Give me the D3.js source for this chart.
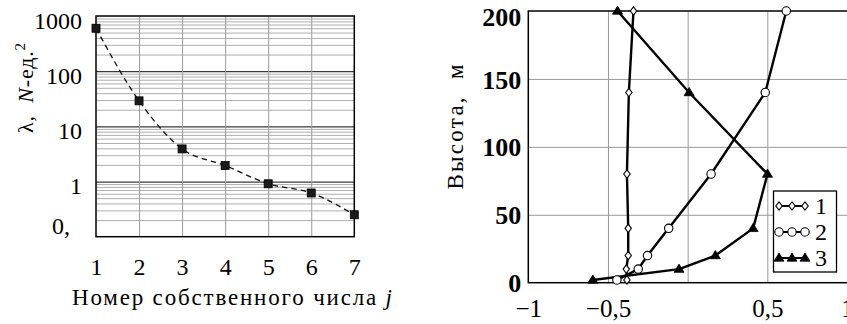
<!DOCTYPE html>
<html><head><meta charset="utf-8">
<script src="https://cdn.jsdelivr.net/npm/d3@7"></script>
<style>
html,body{margin:0;padding:0;background:#fff;}
svg{display:block;}
svg text{font-family:"Liberation Serif","DejaVu Serif",serif !important;white-space:pre;}
</style></head>
<body>
<svg id="chart" width="847" height="324"></svg>
<script>
// ---------- data: left chart ----------
const jValues = [1, 2, 3, 4, 5, 6, 7];
const lambdaValues = [600, 29, 3.9, 1.95, 0.91, 0.62, 0.25];
const leftYTicks = [1000, 100, 10, 1, 0.1];
const leftYTickLabels = ["1000", "100", "10", "1", "0,"];

// ---------- data: right chart ----------
const heights = [2, 10, 20, 40, 80, 140, 200];
const series1 = [-0.381, -0.385, -0.373, -0.373, -0.381, -0.369, -0.34];
const series2 = [-0.444, -0.31, -0.252, -0.119, 0.147, 0.487, 0.619];
const series3 = [-0.595, -0.054, 0.174, 0.411, 0.501, 0.009, -0.44];
const seriesNames = ["1", "2", "3"];
const rightXTicks = [-1, -0.5, 0.5, 1];
const rightXTickLabels = ["\u22121", "\u22120,5", "0,5", "1"];
const rightYTicks = [0, 50, 100, 150, 200];

const svg = d3.select("#chart");

// ================= LEFT CHART =================
const L = {x0: 96, x1: 354.3, y0: 16, y1: 236.7};
const xL = d3.scaleLinear().domain([1, 7]).range([L.x0, L.x1]);
const yL = d3.scaleLog().domain([0.1, 1000]).range([L.y1, L.y0]);

const gL = svg.append("g");

const minorVals = [];
for (let e = -1; e < 3; e++) for (let k = 2; k <= 9; k++) minorVals.push(k * Math.pow(10, e));
gL.append("g")
  .attr("transform", `translate(${L.x0},0)`)
  .call(d3.axisLeft(yL).tickValues(minorVals).tickSize(-(L.x1 - L.x0)).tickFormat(""))
  .call(g => g.select(".domain").remove())
  .call(g => g.selectAll("line").attr("stroke", "#9a9a9a").attr("stroke-width", 0.8));
gL.append("g")
  .attr("transform", `translate(${L.x0},0)`)
  .call(d3.axisLeft(yL).tickValues([1, 10, 100]).tickSize(-(L.x1 - L.x0)).tickFormat(""))
  .call(g => g.select(".domain").remove())
  .call(g => g.selectAll("line").attr("stroke", "#3a3a3a").attr("stroke-width", 1.2));
gL.append("g")
  .attr("transform", `translate(0,${L.y1})`)
  .call(d3.axisBottom(xL).tickValues([2, 3, 4, 5, 6]).tickSize(-(L.y1 - L.y0)).tickFormat(""))
  .call(g => g.select(".domain").remove())
  .call(g => g.selectAll("line").attr("stroke", "#9a9a9a").attr("stroke-width", 1));
gL.append("rect").attr("x", L.x0).attr("y", L.y0)
  .attr("width", L.x1 - L.x0).attr("height", L.y1 - L.y0)
  .attr("fill", "none").attr("stroke", "#000").attr("stroke-width", 1.5);

gL.append("g")
  .attr("transform", `translate(${L.x0},0)`)
  .call(d3.axisLeft(yL).tickValues(leftYTicks).tickSize(0).tickPadding(14)
        .tickFormat((d, i) => leftYTickLabels[i]))
  .call(g => g.select(".domain").remove())
  .call(g => g.selectAll("text").attr("font-size", 24).attr("fill", "#000")
        .attr("dx", (d, i) => i === leftYTicks.length - 1 ? "-0.5em" : "0")
        .attr("dy", (d, i) => i === leftYTicks.length - 1 ? "-0.15em" : "0.5em"));
gL.append("g")
  .attr("transform", `translate(0,${L.y1})`)
  .call(d3.axisBottom(xL).tickValues(jValues).tickSize(0).tickPadding(21).tickFormat(d3.format("d")))
  .call(g => g.select(".domain").remove())
  .call(g => g.selectAll("text").attr("font-size", 24).attr("fill", "#000"));

const lineL = d3.line().x((d, i) => xL(jValues[i])).y(d => yL(d)).curve(d3.curveMonotoneX);
gL.append("path").datum(lambdaValues).attr("d", lineL)
  .attr("fill", "none").attr("stroke", "#111").attr("stroke-width", 1.3)
  .attr("stroke-dasharray", "5.5,4");
gL.selectAll("rect.pt").data(lambdaValues).enter().append("rect").attr("class", "pt")
  .attr("x", (d, i) => xL(jValues[i]) - 4).attr("y", d => yL(d) - 4)
  .attr("width", 8).attr("height", 8).attr("fill", "#1a1a1a").attr("stroke", "#000").attr("stroke-width", 0.8);

const xtL = gL.append("text").attr("x", 72).attr("y", 305).attr("font-size", 23).attr("fill", "#000")
  .attr("textLength", 320).attr("lengthAdjust", "spacing");
xtL.append("tspan").text("Номер собственного числа ");
xtL.append("tspan").attr("font-style", "italic").text("j");

const ytL = gL.append("text").attr("transform", "translate(33,88) rotate(-90)")
  .attr("text-anchor", "middle").attr("font-size", 22).attr("fill", "#000")
  .attr("textLength", 90).attr("lengthAdjust", "spacing");
ytL.append("tspan").text("λ,  ");
ytL.append("tspan").attr("font-style", "italic").text("N");
ytL.append("tspan").text("-ед.");
ytL.append("tspan").attr("font-size", 15).attr("dy", "-0.55em").text("2");

// ================= RIGHT CHART =================
const R = {x0: 528.3, x1: 847, y0: 11, y1: 282.7};
const xR = d3.scaleLinear().domain([-1, 1]).range([R.x0, R.x1]);
const yR = d3.scaleLinear().domain([0, 200]).range([R.y1, R.y0]);
const gR = svg.append("g");

gR.append("g").attr("transform", `translate(0,${R.y1})`)
  .call(d3.axisBottom(xR).tickValues([-0.5, 0, 0.5]).tickSize(-(R.y1 - R.y0)).tickFormat(""))
  .call(g => g.select(".domain").remove())
  .call(g => g.selectAll("line").attr("stroke", "#999").attr("stroke-width", 1));
gR.append("g").attr("transform", `translate(${R.x0},0)`)
  .call(d3.axisLeft(yR).tickValues([50, 100, 150]).tickSize(-(R.x1 - R.x0)).tickFormat(""))
  .call(g => g.select(".domain").remove())
  .call(g => g.selectAll("line").attr("stroke", "#999").attr("stroke-width", 1));
gR.append("rect").attr("x", R.x0).attr("y", R.y0)
  .attr("width", R.x1 - R.x0 + 2).attr("height", R.y1 - R.y0)
  .attr("fill", "none").attr("stroke", "#000").attr("stroke-width", 1.5);

gR.append("g").attr("transform", `translate(${R.x0},0)`)
  .call(d3.axisLeft(yR).tickValues(rightYTicks).tickSize(0).tickPadding(7).tickFormat(d3.format("d")))
  .call(g => g.select(".domain").remove())
  .call(g => g.selectAll("text").attr("font-size", 26).attr("font-weight", "bold").attr("fill", "#000")
        .attr("dy", d => d === 200 ? "0.55em" : "0.35em"));
gR.append("g").attr("transform", `translate(0,${R.y1})`)
  .call(d3.axisBottom(xR).tickValues(rightXTicks).tickSize(0).tickPadding(17)
        .tickFormat((d, i) => rightXTickLabels[i]))
  .call(g => g.select(".domain").remove())
  .call(g => g.selectAll("text").attr("font-size", 25).attr("fill", "#000"));

gR.append("text").attr("transform", "translate(463,127) rotate(-90)")
  .attr("text-anchor", "middle").attr("font-size", 23).attr("fill", "#000")
  .attr("textLength", 125).attr("lengthAdjust", "spacing")
  .text("Высота,  м");

const allSeries = [series1, series2, series3];
const lineR = d3.line().x(d => xR(d[0])).y(d => yR(d[1]));

function drawMarker(g, type, cx, cy) {
  if (type === 0) {
    g.append("path").attr("d", `M${cx},${cy - 4.2}L${cx + 3.2},${cy}L${cx},${cy + 4.2}L${cx - 3.2},${cy}Z`)
      .attr("fill", "#fff").attr("stroke", "#000").attr("stroke-width", 1.1);
  } else if (type === 1) {
    g.append("circle").attr("cx", cx).attr("cy", cy).attr("r", 4.2)
      .attr("fill", "#fff").attr("stroke", "#000").attr("stroke-width", 1.1);
  } else {
    g.append("path").attr("d", `M${cx},${cy - 5}L${cx + 5},${cy + 3.2}L${cx - 5},${cy + 3.2}Z`)
      .attr("fill", "#000").attr("stroke", "#000").attr("stroke-width", 0.8);
  }
}

allSeries.forEach((s) => {
  const pts = s.map((v, i) => [v, heights[i]]);
  gR.append("path").datum(pts).attr("d", lineR)
    .attr("fill", "none").attr("stroke", "#000").attr("stroke-width", 2.4).attr("stroke-linejoin", "round");
});
allSeries.forEach((s, si) => {
  const mg = gR.append("g");
  s.forEach((v, i) => drawMarker(mg, si, xR(v), yR(heights[i])));
});

const lg = gR.append("g");
lg.append("rect").attr("x", 773.5).attr("y", 191).attr("width", 63).attr("height", 81)
  .attr("fill", "#fff").attr("stroke", "#000").attr("stroke-width", 1.3);
seriesNames.forEach((name, i) => {
  const cy = 206 + i * 26;
  lg.append("line").attr("x1", 776).attr("x2", 808).attr("y1", cy).attr("y2", cy)
    .attr("stroke", "#000").attr("stroke-width", 2);
  [779, 792, 805].forEach(cx => drawMarker(lg, i, cx, cy));
  lg.append("text").attr("x", 815).attr("y", cy + 8).attr("font-size", 24).attr("fill", "#000").text(name);
});
</script>
</body></html>
